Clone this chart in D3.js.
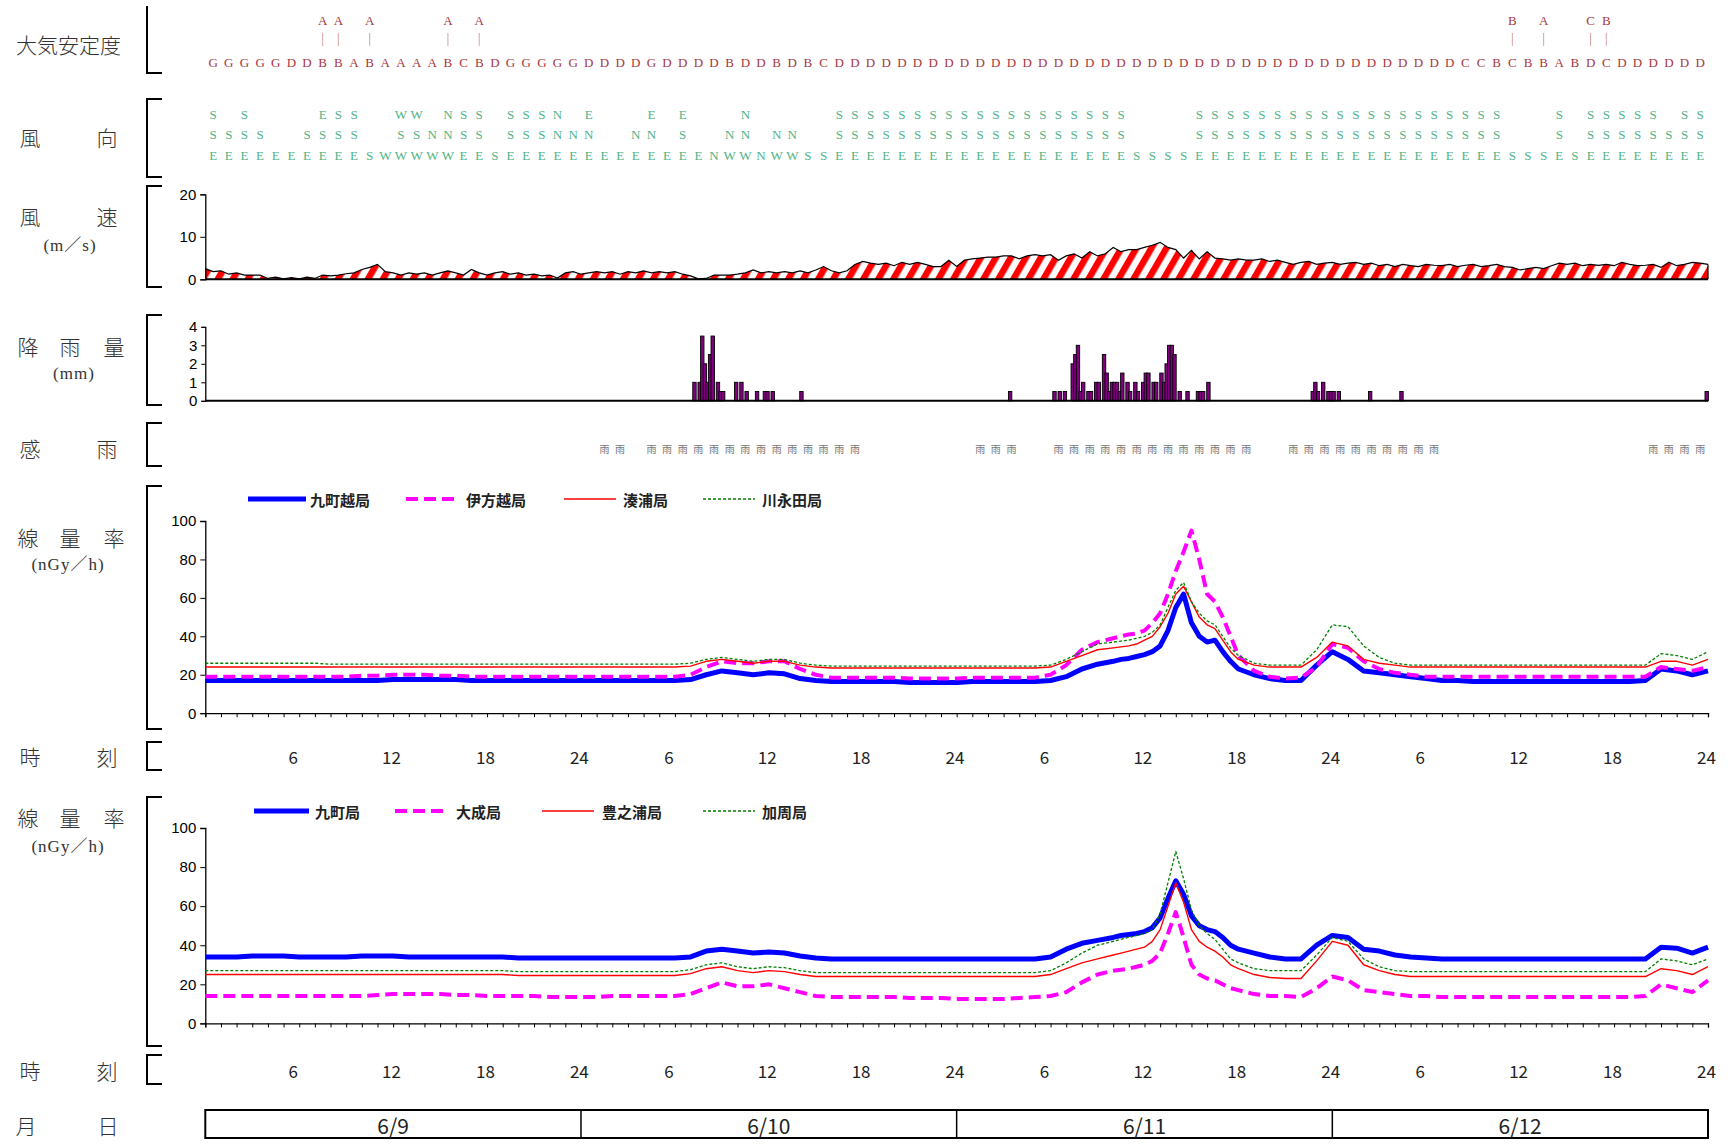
<!DOCTYPE html>
<html><head><meta charset="utf-8">
<script src="https://cdn.jsdelivr.net/npm/d3@7"></script>
<style>
html,body{margin:0;padding:0;background:#fff;}
svg{display:block;}
</style></head>
<body><svg id="c" width="1731" height="1144"></svg>
<script>
// ---------------- DATA ----------------
// Atmospheric stability (hourly, 96 hours) in groups of 12 hours
const stabLower = ["GGGGGDDBBABA","AAABCBDGGGGG","DDDDGDDDDBDD","BDBCDDDDDDDD","DDDDDDDDDDDD","DDDDDDDDDDDD","DDDDDDDDCCBC","BBABDCDDDDDD"];
const stabUpper = [".......AA.A.","...A.A......","............","............","............","............","...........B",".A..CB......"];
// Wind direction (3 rows of 16-point notation), '.' = blank
const windDir1 = ["S.S....ESS..","WW.NSS.SSSN.","E...E.E...N.","....SSSSSSSS","SSSSSSSSSSS.","...SSSSSSSSS","SSSSSSSSSSS.","..S.SSSSS.SS"];
const windDir2 = ["SSSS..SSSS..","SSNNSS.SSSNN","N..NN.S..NN.","NN..SSSSSSSS","SSSSSSSSSSS.","...SSSSSSSSS","SSSSSSSSSSS.","..S.SSSSSSSS"];
const windDir3 = ["EEEEEEEEEESW","WWWWEESEEEEE","EEEEEEEENWWN","WWSSEEEEEEEE","EEEEEEEEEEES","SSSEEEEEEEEE","EEEEEEEEEEES","SSESEEEEEEEE"];
// Wind speed (m/s), every half hour from hour 0 to 96
const windSpeed = [
 2.5,1.8,2.0,1.2,1.5,1.0,1.0,1.0,0.2,0.5,
 0.1,0.4,0.1,0.5,0.2,1.0,0.8,1.0,1.3,1.5,
 2.3,2.8,3.5,1.8,1.5,1.0,1.5,1.2,1.5,1.0,
 1.5,2.0,1.5,1.0,2.3,1.5,1.0,1.5,1.8,1.2,
 1.5,1.0,1.2,0.8,1.0,0.3,1.5,1.8,1.2,1.5,
 1.8,1.5,1.8,1.2,1.8,1.5,2.0,1.5,1.8,1.5,
 1.8,1.2,0.8,0.1,0.2,1.0,1.0,1.0,1.2,1.5,
 2.2,1.5,1.8,1.5,1.8,1.5,2.0,1.5,2.2,3.0,
 2.0,1.5,2.0,3.5,4.2,3.8,3.5,3.8,3.2,4.0,
 3.5,4.0,3.5,3.0,3.0,4.5,3.0,4.5,4.8,5.0,
 5.2,5.2,5.5,5.5,4.8,5.5,5.8,5.5,5.8,4.5,
 5.5,6.0,5.0,6.5,5.5,6.0,7.5,6.5,7.0,7.0,
 7.5,8.0,8.7,7.5,7.0,5.0,6.8,4.8,6.5,5.0,
 4.8,4.5,4.8,4.5,4.5,4.8,4.2,4.5,4.0,3.5,
 4.0,4.2,3.5,3.8,4.0,3.5,3.8,4.0,3.5,3.8,
 3.2,3.5,3.0,3.5,3.2,3.0,3.5,3.3,3.2,3.5,
 3.0,3.3,3.5,3.0,3.2,3.5,3.0,2.8,2.2,2.5,
 2.8,2.5,3.2,3.8,3.5,3.8,3.2,3.5,3.3,3.5,
 3.2,4.0,3.5,3.2,3.3,3.5,2.8,4.0,3.2,3.5,
 4.0,3.8,3.5];
// Rainfall (mm) per 10-minute slot (slot index from start)
const rainSlot = [187,189,190,191,192,193,194,196,197,198,203,205,207,211,214,215,217,228,
 308,325,327,329,332,333,334,335,336,338,339,341,342,344,345,346,347,348,349,350,351,353,354,356,357,359,360,361,363,364,366,367,368,369,370,371,373,376,380,381,382,384,
 424,425,426,428,430,431,432,434,446,458,575];
const rainMm = [1,1,3.5,2,1,2.5,3.5,1,0.5,0.5,1,1,0.5,0.5,0.5,0.5,0.5,0.5,
 0.5,0.5,0.5,0.5,2,2.5,3,0.5,1,0.5,0.5,1,1,2.5,1.5,0.5,1,1,1,0.5,1.5,1,0.5,1,0.5,1,1.5,1.5,1,1,1.5,1,2,3,3,2.5,0.5,0.5,0.5,0.5,0.5,1,
 0.5,1,0.5,1,0.5,0.5,0.5,0.5,0.5,0.5,0.5];
// Rain sensor (hours with rain detected)
const rainSense = [25,26,28,29,30,31,32,33,34,35,36,37,38,39,40,41,49,50,51,54,55,56,57,58,59,60,61,62,63,64,65,66,69,70,71,72,73,74,75,76,77,78,92,93,94,95];

// Time points for dose rate series (hours)
const doseHours = [].concat(d3.range(0,58),
 [58,58.5,59,59.5,60,60.5,61,61.5,62,62.5,63,63.5,64,64.5,65,65.5,66],
 d3.range(67,97));

// Chart 1 (nGy/h)
const c1Names = ["九町越局","伊方越局","湊浦局","川永田局"];
const kuchoGoshi = [
 17,17,17,17,17,17,17,17,17,17,
 17,17,17.5,17.5,17.5,17.5,17.5,17,17,17,
 17,17,17,17,17,17,17,17,17,17,
 17,17.5,20,22,21,20,21,20.5,18,17,
 16.5,16.5,16.5,16.5,16.5,16,16,16,16,16.5,
 16.5,16.5,16.5,16.5,17,19,23,25.5,
 27,28,28.5,29.5,30.5,32,35,43,55,62,47,40,37,38,32,27,23,
 20,18,17,17,25,32,28,22,21,20,
 19,18,17,17,16.5,16.5,16.5,16.5,16.5,16.5,
 16.5,16.5,16.5,16.5,16.5,17,23,22,20,22];
const ikataGoshi = [
 19,19,19,19,19,19,19,19,19,19,
 19.5,19.5,20,20,20,19.5,19.5,19,19,19,
 19,19,19,19,19,19,19,19,19,19,
 19,20,24,27,26,26,27,27,23,20,
 18.5,18.5,18.5,18.5,18.5,18,18,18,18,18.5,
 18.5,18.5,18.5,18.5,20,25,33,37,
 39,40,41,41.5,43,47,52,62,74,84,95,80,62,58,50,40,30,
 22,19,18,18.5,24,36,34,27,23,21,
 20,19,19,19,19,19,19,19,19,19,
 19,19,19,19,19,19,24,23,22,24];
const minatoura = [
 24,24,24,24,24,24,24,24,24,24,
 24,24,24,24,24,24,24,24,24,24,
 24,24,24,24,24,24,24,24,24,24,
 24,24.5,27,28,27,26,27,27,25,24,
 23.5,23.5,23.5,23.5,23.5,23.5,23.5,23.5,23.5,23.5,
 23.5,23.5,23.5,23.5,24,27,30,33,
 34,34.5,35,36,38,40,45,52,62,66,58,50,46,44,38,32,28,
 25,24,24,24,29,37,35,28,26,25,
 24,24,24,24,24,24,24,24,24,24,
 24,24,24,24,24,24,27,27,25,28];
const kawanagata = [
 26,26,26,26,26,26,26,26,25.5,25.5,
 25.5,25.5,25.5,25.5,25.5,25.5,25.5,25.5,25.5,25.5,
 25.5,25.5,25.5,25.5,25.5,25.5,25.5,25.5,25.5,25.5,
 25.5,26,28,29,28,27,28,28,26,25,
 24.5,24.5,24.5,24.5,24.5,24.5,24.5,24.5,24.5,24.5,
 24.5,24.5,24.5,24.5,25,28,32,36,
 37,37.5,38,39,40,42,46,55,64,68,58,52,48,46,40,34,30,
 26,25,25,25,33,46,45,35,29,26,
 25,25,25,25,25,25,25,25,25,25,
 25,25,25,25,25,25,31,30,28,32];

// Chart 2 (nGy/h)
const c2Names = ["九町局","大成局","豊之浦局","加周局"];
const kucho = [
 34,34,34,34.5,34.5,34.5,34,34,34,34,
 34.5,34.5,34.5,34,34,34,34,34,34,34,
 33.5,33.5,33.5,33.5,33.5,33.5,33.5,33.5,33.5,33.5,
 33.5,34,37,38,37,36,36.5,36,34.5,33.5,
 33,33,33,33,33,33,33,33,33,33,
 33,33,33,33,34,38,41,42.5,
 44,45,45.5,46,47,49,54,64,73,66,55,50,48,47,44,40,38,
 36,34,33,33,40,45,44,38,37,35,
 34,33.5,33,33,33,33,33,33,33,33,
 33,33,33,33,33,33,39,38.5,36,39];
const onari = [
 14,14,14,14,14,14,14,14,14,14,
 14,14.5,15,15,15,15,14.5,14.5,14,14,
 14,14,13.5,13.5,13.5,13.5,14,14,14,14,
 14,15,18,21,19,19,20,18,16,14,
 13.5,13.5,13.5,13.5,13.5,13,13,13,12.5,12.5,
 12.5,12.5,13,13.5,14,16,21,25,
 27,27.5,28,29,30,32,36,46,57,44,30,25,23,22,20,18,17,
 15,14,14,13.5,18,24,22,17,16,15,
 14,14,13.5,13.5,13.5,13.5,13.5,13.5,13.5,13.5,
 13.5,13.5,13.5,13.5,13.5,14,20,18,16,22];
const toyonoura = [
 25,25,25,25,25,25,25,25,25,25,
 25,25,25,25,25,25,25,25,25,25,
 24.5,24.5,24.5,24.5,24.5,24.5,24.5,24.5,24.5,24.5,
 24.5,25.5,28,29,27,26,27,26.5,25,24,
 24,24,24,24,24,24,24,24,24,24,
 24,24,24,24,25,28,31,33,
 35,36,37,38,39,42,48,60,72,62,48,42,39,37,34,30,28,
 25,23.5,23,23,32,42,40,30,27,25,
 24,24,24,24,24,24,24,24,24,24,
 24,24,24,24,24,24,28,27,25,29];
const kashu = [
 27,27,27,27,27,27,27,27,27,27,
 27,27,27,27,27,27,27,27,27,27,
 26.5,26.5,26.5,26.5,26.5,26.5,26.5,26.5,26.5,26.5,
 26.5,27.5,30,31,29,28,29,28.5,27,26,
 26,26,26,26,26,26,26,26,26,26,
 26,26,26,26,27,31,36,40,
 42,43,44,45,46,48,56,72,88,74,58,50,46,43,38,33,31,
 28,27,27,27,35,44,42,33,29,27,
 26.5,26.5,26.5,26.5,26.5,26.5,26.5,26.5,26.5,26.5,
 26.5,26.5,26.5,26.5,26.5,26.5,33,32,30,33];

const timeTicks = [6,12,18,24,30,36,42,48,54,60,66,72,78,84,90,96];
const timeLabels = ["6","12","18","24","6","12","18","24","6","12","18","24","6","12","18","24"];
const dayLabels = ["6/9","6/10","6/11","6/12"];
const doseTicks = [0,20,40,60,80,100];

// ---------------- DRAW ----------------
const svg = d3.select('#c');
const JP = '"Noto Sans CJK JP", "Noto Sans", sans-serif';
const NUM = '"Liberation Sans Narrow", "Liberation Sans", Arial, sans-serif';
const SERIF = '"Liberation Serif", "DejaVu Serif", serif';
const x = d3.scaleLinear().domain([0,96]).range([205.3,1708]);

function bracket(y1,y2,open=true){
  const p = open ? `M162,${y1} H147 V${y2} H162` : `M147,${y1} V${y2} H162`;
  svg.append('path').attr('d',p).attr('fill','none').attr('stroke','#000').attr('stroke-width',2);
}
function sideLabel(y, chars, xs, size=21){
  chars.forEach((c,i)=>svg.append('text').attr('x',xs[i]).attr('y',y).attr('text-anchor','middle')
    .attr('dominant-baseline','central').attr('font-family',JP).attr('font-weight',300).attr('font-size',size).attr('fill','#333').text(c));
}
function subLabel(y, txt, cx){
  svg.append('text').attr('x',cx).attr('y',y).attr('text-anchor','middle').attr('dominant-baseline','central')
    .attr('font-family',SERIF+', '+JP).attr('font-size',17).attr('fill','#333').attr('letter-spacing',1).text(txt);
}

// ---- Stability ----
bracket(6,73,false);
svg.append('text').attr('x',16).attr('y',44).attr('dominant-baseline','central').attr('font-family',JP)
  .attr('font-weight',300).attr('font-size',21).attr('fill','#333').text('大気安定度');
const lowerChars = stabLower.join('').split('');
const upperChars = stabUpper.join('').split('');
svg.append('g').selectAll('text').data(lowerChars).join('text')
  .attr('x',(d,i)=>x(i+0.5)).attr('y',62).attr('text-anchor','middle').attr('dominant-baseline','central')
  .attr('font-family',SERIF).attr('font-size',13).attr('fill','#A8363C').text(d=>d);
const up = upperChars.map((c,i)=>({c,i})).filter(d=>d.c!=='.');
svg.append('g').selectAll('text').data(up).join('text')
  .attr('x',d=>x(d.i+0.5)).attr('y',20).attr('text-anchor','middle').attr('dominant-baseline','central')
  .attr('font-family',SERIF).attr('font-size',13).attr('fill','#A8363C').text(d=>d.c);
svg.append('g').selectAll('line').data(up).join('line')
  .attr('x1',d=>x(d.i+0.5)).attr('x2',d=>x(d.i+0.5)).attr('y1',33).attr('y2',46)
  .attr('stroke','#D9A3A6').attr('stroke-width',1);

// ---- Wind direction ----
bracket(99,177);
sideLabel(137,['風','向'],[30,107]);
[[windDir1,114],[windDir2,134],[windDir3,155]].forEach(([row,yy])=>{
  const chars = row.join('').split('').map((c,i)=>({c,i})).filter(d=>d.c!=='.');
  svg.append('g').selectAll('text').data(chars).join('text')
    .attr('x',d=>x(d.i+0.5)).attr('y',yy).attr('text-anchor','middle').attr('dominant-baseline','central')
    .attr('font-family',SERIF).attr('font-size',13).attr('fill','#4FB386').text(d=>d.c);
});

// ---- Wind speed ----
bracket(186,287);
sideLabel(216,['風','速'],[30,107]);
subLabel(245,'(m／s)',70);
const yW = d3.scaleLinear().domain([0,20]).range([279.3,194.3]);
const defs = svg.append('defs');
const pat = defs.append('pattern').attr('id','hatch').attr('patternUnits','userSpaceOnUse')
  .attr('width',13).attr('height',13).attr('patternTransform','rotate(30)');
pat.append('rect').attr('width',13).attr('height',13).attr('fill','#fff');
pat.append('rect').attr('width',6.5).attr('height',13).attr('fill','#FF0000');
const ws = windSpeed.map((v,i)=>[i/2,v]);
svg.append('path').datum(ws).attr('d',d3.area().x(d=>x(d[0])).y0(yW(0)).y1(d=>yW(d[1])))
  .attr('fill','url(#hatch)');
svg.append('path').datum(ws).attr('d',d3.line().x(d=>x(d[0])).y(d=>yW(d[1])))
  .attr('fill','none').attr('stroke','#000').attr('stroke-width',1.2);
svg.append('line').attr('x1',x(96)).attr('x2',x(96)).attr('y1',yW(windSpeed[windSpeed.length-1])).attr('y2',yW(0)).attr('stroke','#000').attr('stroke-width',1.2);
const axW = svg.append('g').attr('transform',`translate(${x(0)},0)`)
  .call(d3.axisLeft(yW).tickValues([0,10,20]).tickSize(5).tickPadding(4));
axW.select('.domain').attr('stroke-width',1.3);
axW.selectAll('text').attr('font-family',NUM).attr('font-size',15).attr('fill','#000');
svg.append('line').attr('x1',x(0)).attr('x2',x(96)).attr('y1',yW(0)).attr('y2',yW(0)).attr('stroke','#000').attr('stroke-width',2);

// ---- Rain ----
bracket(315,405);
sideLabel(346,['降','雨','量'],[28,70,114]);
subLabel(373,'(mm)',74);
const yR = d3.scaleLinear().domain([0,4]).range([400.8,326.8]);
const rain = rainSlot.map((s,i)=>({s,v:rainMm[i]}));
svg.append('g').selectAll('rect').data(rain).join('rect')
  .attr('x',d=>x((d.s+0.5)/6)-1.7).attr('width',3.4)
  .attr('y',d=>yR(d.v)).attr('height',d=>yR(0)-yR(d.v))
  .attr('fill','#800080').attr('stroke','#000').attr('stroke-width',0.9);
const axR = svg.append('g').attr('transform',`translate(${x(0)},0)`)
  .call(d3.axisLeft(yR).tickValues([0,1,2,3,4]).tickFormat(d3.format('d')).tickSize(4).tickPadding(4));
axR.select('.domain').attr('stroke-width',1.3);
axR.selectAll('text').attr('font-family',NUM).attr('font-size',15).attr('fill','#000');
svg.append('line').attr('x1',x(0)).attr('x2',x(96)).attr('y1',yR(0)).attr('y2',yR(0)).attr('stroke','#000').attr('stroke-width',2);

// ---- Rain sensor ----
bracket(423,466);
sideLabel(448,['感','雨'],[30,107]);
svg.append('g').selectAll('text').data(rainSense).join('text')
  .attr('x',h=>x(h+0.5)).attr('y',448).attr('text-anchor','middle').attr('dominant-baseline','central')
  .attr('font-family',JP).attr('font-size',10).attr('fill','#777').text('雨');

// ---- Dose charts ----
const styles = [
  {color:'#0000FF', w:5, dash:null},
  {color:'#FF00FF', w:4, dash:'12,6'},
  {color:'#FF0000', w:1.4, dash:null},
  {color:'#008000', w:1.3, dash:'3,2'}
];
function doseChart(yTop, yBot, series, names, legendY, legendPos){
  const y = d3.scaleLinear().domain([0,100]).range([yBot,yTop]);
  const ax = svg.append('g').attr('transform',`translate(${x(0)},0)`)
    .call(d3.axisLeft(y).tickValues(doseTicks).tickSize(5).tickPadding(4));
  ax.select('.domain').attr('stroke-width',1.3);
  ax.selectAll('text').attr('font-family',NUM).attr('font-size',15).attr('fill','#000');
  const axx = svg.append('g').attr('transform',`translate(0,${yBot})`)
    .call(d3.axisBottom(x).tickValues(d3.range(0,97)).tickSize(4).tickFormat(''));
  axx.select('.domain').attr('stroke-width',1.3);
  series.forEach((s,k)=>{
    const pts = doseHours.map((h,i)=>[h,s[i]]);
    const p = svg.append('path').datum(pts).attr('d',d3.line().x(d=>x(d[0])).y(d=>y(d[1])))
      .attr('fill','none').attr('stroke',styles[k].color).attr('stroke-width',styles[k].w)
      .attr('stroke-linejoin','round');
    if(styles[k].dash) p.attr('stroke-dasharray',styles[k].dash);
  });
  names.forEach((n,k)=>{
    const [a,b,t] = legendPos[k];
    const l = svg.append('line').attr('x1',a).attr('x2',b).attr('y1',legendY).attr('y2',legendY)
      .attr('stroke',styles[k].color).attr('stroke-width',styles[k].w);
    if(styles[k].dash) l.attr('stroke-dasharray',styles[k].dash);
    svg.append('text').attr('x',t).attr('y',legendY).attr('dominant-baseline','central')
      .attr('font-family',JP).attr('font-weight','bold').attr('font-size',15).attr('fill','#222').text(n);
  });
}
bracket(486,729);
sideLabel(537,['線','量','率'],[28,70,114]);
subLabel(564,'(nGy／h)',68);
doseChart(521,713.2,[kuchoGoshi,ikataGoshi,minatoura,kawanagata],c1Names,499,
  [[248,306,310],[406,458,466],[564,616,623],[703,755,762]]);

function timeRow(y1,y2,yc){
  bracket(y1,y2);
  sideLabel(yc,['時','刻'],[30,107]);
  svg.append('g').selectAll('text').data(timeTicks).join('text')
    .attr('x',(h,i)=>x(h)-(timeLabels[i].length===1?6:1.6)).attr('y',yc).attr('text-anchor','middle')
    .attr('dominant-baseline','central').attr('font-family',JP).attr('font-size',17).attr('fill','#222')
    .text((h,i)=>timeLabels[i]);
}
timeRow(742,770,756);

bracket(797,1046);
sideLabel(817,['線','量','率'],[28,70,114]);
subLabel(846,'(nGy／h)',68);
doseChart(828,1023.4,[kucho,onari,toyonoura,kashu],c2Names,811,
  [[254,309,315],[395,448,456],[542,594,602],[703,755,762]]);

timeRow(1055,1084,1070);

// ---- Date row ----
sideLabel(1125,['月','日'],[26,108]);
svg.append('rect').attr('x',x(0)).attr('y',1110).attr('width',x(96)-x(0)).attr('height',28)
  .attr('fill','none').attr('stroke','#000').attr('stroke-width',2);
[24,48,72].forEach(h=>svg.append('line').attr('x1',x(h)).attr('x2',x(h)).attr('y1',1110).attr('y2',1138)
  .attr('stroke','#000').attr('stroke-width',1.5));
svg.append('g').selectAll('text').data(dayLabels).join('text')
  .attr('x',(d,i)=>x(i*24+12)).attr('y',1125).attr('text-anchor','middle').attr('dominant-baseline','central')
  .attr('font-family',JP).attr('font-size',21).attr('fill','#222').text(d=>d);
</script></body></html>
